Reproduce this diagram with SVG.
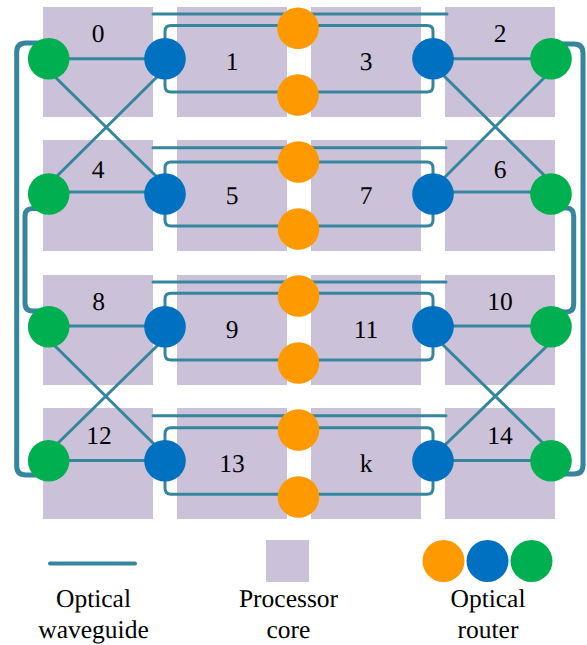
<svg xmlns="http://www.w3.org/2000/svg" width="587" height="645" viewBox="0 0 587 645">
<style>
.core{fill:#cbc2da}
.t{font-family:"Liberation Serif","Times New Roman",serif;font-size:25.5px;fill:#000;text-anchor:middle;text-rendering:geometricPrecision}
.w{fill:none;stroke:#35869c;stroke-width:3;stroke-linecap:round}
.x{fill:none;stroke:#35869c;stroke-width:3}
.b{fill:none;stroke:#35869c;stroke-width:5;stroke-linecap:round}
.l{fill:none;stroke:#35869c;stroke-width:4;stroke-linecap:round}
.o{fill:#ff9900}.u{fill:#0070c0}.g{fill:#00b050}
</style>
<rect width="587" height="645" fill="#fff"/>
<g id="core-0"><rect class="core" x="43" y="7" width="110" height="110"/><text class="t" x="98" y="42">0</text></g>
<g id="core-1"><rect class="core" x="177" y="7" width="110" height="110"/><text class="t" x="232" y="69.5">1</text></g>
<g id="core-3"><rect class="core" x="311" y="7" width="110" height="110"/><text class="t" x="366" y="69.5">3</text></g>
<g id="core-2"><rect class="core" x="445" y="7" width="110" height="110"/><text class="t" x="500" y="42">2</text></g>
<g id="core-4"><rect class="core" x="43" y="140" width="110" height="111"/><text class="t" x="98" y="178">4</text></g>
<g id="core-5"><rect class="core" x="177" y="140" width="110" height="111"/><text class="t" x="232" y="203.5">5</text></g>
<g id="core-7"><rect class="core" x="311" y="140" width="110" height="111"/><text class="t" x="366" y="203.5">7</text></g>
<g id="core-6"><rect class="core" x="445" y="140" width="110" height="111"/><text class="t" x="500" y="178">6</text></g>
<g id="core-8"><rect class="core" x="43" y="275" width="110" height="110"/><text class="t" x="98.500" y="310">8</text></g>
<g id="core-9"><rect class="core" x="177" y="275" width="110" height="110"/><text class="t" x="232" y="337.500">9</text></g>
<g id="core-11"><rect class="core" x="311" y="275" width="110" height="110"/><text class="t" x="366" y="337.500">11</text></g>
<g id="core-10"><rect class="core" x="445" y="275" width="110" height="110"/><text class="t" x="500" y="310">10</text></g>
<g id="core-12"><rect class="core" x="43" y="408" width="110" height="111"/><text class="t" x="99" y="444">12</text></g>
<g id="core-13"><rect class="core" x="177" y="408" width="110" height="111"/><text class="t" x="232" y="471.500">13</text></g>
<g id="core-k"><rect class="core" x="311" y="408" width="110" height="111"/><text class="t" x="366" y="471.500">k</text></g>
<g id="core-14"><rect class="core" x="445" y="408" width="110" height="111"/><text class="t" x="500" y="444">14</text></g>
<g id="connectors">
<path class="w" d="M153 14H447M153 147.700H446M153 282H446M153 415.700H446"/>
<path class="w" d="M165 45V31Q165 25.500 171 25.500H427Q433 25.500 433 31V45M165 72V86Q165 92 171 92H427Q433 92 433 86V72"/>
<path class="w" d="M165 180V168Q165 162 171 162H427Q433 162 433 168V180M165 208V220Q165 226 171 226H427Q433 226 433 220V208"/>
<path class="w" d="M165 312V299Q165 293.300 171 293.300H427Q433 293.300 433 299V312M165 340V354Q165 360 171 360H427Q433 360 433 354V340"/>
<path class="w" d="M165 446V434Q165 427.700 171 427.700H427Q433 427.700 433 434V446M165 474V488Q165 494.300 171 494.300H427Q433 494.300 433 488V474"/>
<path class="w" d="M48.700 58.700H165M48.700 192H165M48.700 326H165M48.700 460.500H165M433 58.700H551M433 192H551M433 326H551M433 460.500H551"/>
<path class="x" d="M52 74L158 178M161 73L54 179M52 343L156 446M160 343L55 446M441 73L547 178M549 73L444 178M441 343L546 446M550 343L444 446"/>
<path class="b" d="M40 43H26Q16.700 43 16.700 52V466Q16.700 475 26 475H40"/>
<path class="b" d="M40 208.500H33Q25 208.500 25 216V303Q25 311 33 311H40"/>
<path class="b" d="M562 44H574Q583 44 583 53V465Q583 474 574 474H562"/>
<path class="b" d="M562 208H566Q573.700 208 573.700 216V304Q573.700 312 566 312H562"/>
</g>
<g id="router-o1"><circle class="o" cx="298" cy="28.300" r="20.800"/></g>
<g id="router-o2"><circle class="o" cx="298" cy="95" r="20.800"/></g>
<g id="router-o3"><circle class="o" cx="298.500" cy="162" r="20.800"/></g>
<g id="router-o4"><circle class="o" cx="298.500" cy="229" r="20.800"/></g>
<g id="router-o5"><circle class="o" cx="298.500" cy="296" r="20.800"/></g>
<g id="router-o6"><circle class="o" cx="298.500" cy="363" r="20.800"/></g>
<g id="router-o7"><circle class="o" cx="298.500" cy="430" r="20.800"/></g>
<g id="router-o8"><circle class="o" cx="298.500" cy="497" r="20.800"/></g>
<g id="router-g0"><circle class="g" cx="48.700" cy="58.700" r="20.800"/></g>
<g id="router-b0"><circle class="u" cx="165" cy="58.700" r="20.800"/></g>
<g id="router-b1"><circle class="u" cx="433" cy="58.700" r="20.800"/></g>
<g id="router-g1"><circle class="g" cx="551" cy="58.700" r="20.800"/></g>
<g id="router-g2"><circle class="g" cx="48.700" cy="194" r="20.800"/></g>
<g id="router-b2"><circle class="u" cx="165" cy="194" r="20.800"/></g>
<g id="router-b3"><circle class="u" cx="433" cy="194" r="20.800"/></g>
<g id="router-g3"><circle class="g" cx="551" cy="194" r="20.800"/></g>
<g id="router-g4"><circle class="g" cx="48.700" cy="326.700" r="20.800"/></g>
<g id="router-b4"><circle class="u" cx="165" cy="326.700" r="20.800"/></g>
<g id="router-b5"><circle class="u" cx="433" cy="326.700" r="20.800"/></g>
<g id="router-g5"><circle class="g" cx="551" cy="326.700" r="20.800"/></g>
<g id="router-g6"><circle class="g" cx="48.700" cy="460.700" r="20.800"/></g>
<g id="router-b6"><circle class="u" cx="165" cy="460.700" r="20.800"/></g>
<g id="router-b7"><circle class="u" cx="433" cy="460.700" r="20.800"/></g>
<g id="router-g7"><circle class="g" cx="551" cy="460.700" r="20.800"/></g>
<g id="legend-waveguide"><line class="l" x1="50" y1="563.500" x2="135" y2="563.500"/><text class="t" x="93.500" y="607">Optical</text><text class="t" x="93.500" y="638">waveguide</text></g>
<g id="legend-core"><rect class="core" x="266" y="540" width="43" height="42"/><text class="t" x="288.500" y="607">Processor</text><text class="t" x="288.500" y="638">core</text></g>
<g id="legend-router"><circle class="o" cx="443.500" cy="561" r="21"/><circle class="u" cx="487.500" cy="561" r="21"/><circle class="g" cx="531.500" cy="561" r="21"/><text class="t" x="488" y="607">Optical</text><text class="t" x="488" y="638">router</text></g>
</svg>
